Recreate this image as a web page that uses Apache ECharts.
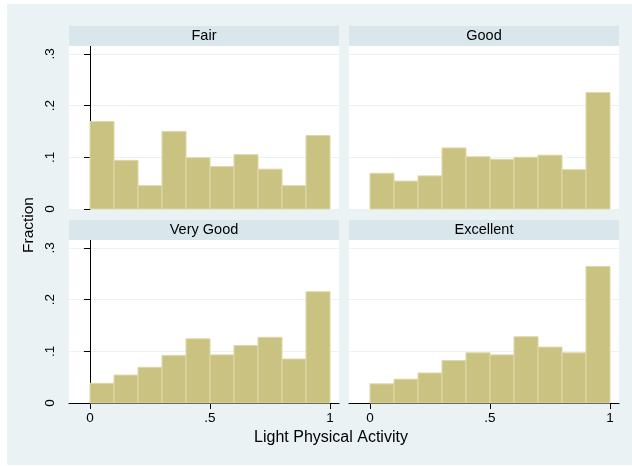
<!DOCTYPE html>
<html><head><meta charset="utf-8">
<script src="https://cdn.jsdelivr.net/npm/echarts@6/dist/echarts.min.js"></script>
<style>html,body{margin:0;padding:0;background:#fff}#c{width:632px;height:466px}</style>
</head><body><div id="c"></div>
<script>
// ---- data ----
const panelTitles = ['Fair', 'Good', 'Very Good', 'Excellent'];
const binStarts = [0, 0.1, 0.2, 0.3, 0.4, 0.5, 0.6, 0.7, 0.8, 0.9];
const binWidth = 0.1;
const fair      = [0.169, 0.094, 0.045, 0.150, 0.099, 0.082, 0.105, 0.077, 0.045, 0.142];
const good      = [0.069, 0.054, 0.064, 0.118, 0.101, 0.096, 0.100, 0.104, 0.076, 0.225];
const veryGood  = [0.038, 0.054, 0.069, 0.092, 0.124, 0.093, 0.111, 0.127, 0.085, 0.215];
const excellent = [0.037, 0.046, 0.058, 0.082, 0.097, 0.093, 0.128, 0.108, 0.097, 0.264];
const xTicks = [0, 0.5, 1];
const xTickLabels = ['0', '.5', '1'];
const yTicks = [0, 0.1, 0.2, 0.3];
const yTickLabels = ['0', '.1', '.2', '.3'];
const xTitle = 'Light Physical Activity';
const yTitle = 'Fraction';

const seriesValues = [fair, good, veryGood, excellent];

// ---- layout ----
const FONT = 'Liberation Sans, Arial, sans-serif';
const grids = [
  {left: 69, top: 46, width: 270, height: 163},
  {left: 349, top: 46, width: 270, height: 163},
  {left: 69, top: 240, width: 270, height: 163},
  {left: 349, top: 240, width: 270, height: 163}
];
const XMIN = -0.0875, XMAX = 1.0375, YMAX = 0.315;

const chart = echarts.init(document.getElementById('c'), null, {renderer: 'canvas'});

function renderItem(params, api) {
  const x0 = api.value(0), v = api.value(1);
  const p0 = api.coord([x0, 0]);
  const p1 = api.coord([x0 + binWidth, v]);
  return {
    type: 'rect',
    shape: {x: p0[0], y: p1[1], width: p1[0] - p0[0], height: p0[1] - p1[1]},
    style: {fill: '#CAC281', stroke: '#DDD8A9', lineWidth: 1}
  };
}

const xAxes = [], yAxes = [], series = [], graphics = [];
graphics.push({type: 'rect', z: -10, shape: {x: 7, y: 4, width: 625, height: 461}, style: {fill: '#EAF2F3'}});

grids.forEach((g, i) => {
  const bottom = i >= 2, left = i % 2 === 0;
  xAxes.push({
    type: 'value', gridIndex: i, min: XMIN, max: XMAX,
    axisLine: {show: bottom, onZero: false, lineStyle: {color: '#000', width: 1}},
    axisTick: {show: bottom, length: 6, customValues: xTicks, lineStyle: {color: '#000'}},
    axisLabel: {show: bottom, customValues: xTicks, margin: 8, color: '#000', fontFamily: FONT, fontSize: 13.5,
      formatter: v => xTickLabels[xTicks.findIndex(t => Math.abs(t - v) < 1e-9)] ?? ''},
    splitLine: {show: false}
  });
  yAxes.push({
    type: 'value', gridIndex: i, min: 0, max: YMAX,
    axisLine: {show: left, lineStyle: {color: '#000', width: 1}},
    axisTick: {show: left, length: 6, customValues: yTicks, lineStyle: {color: '#000'}},
    axisLabel: {show: left, customValues: yTicks, rotate: 90, margin: 12, color: '#000', fontFamily: FONT, fontSize: 13.5,
      formatter: v => yTickLabels[yTicks.findIndex(t => Math.abs(t - v) < 1e-9)] ?? ''},
    splitLine: {show: true, lineStyle: {color: '#EAF2F3', width: 1}}
  });
  series.push({
    type: 'custom', xAxisIndex: i, yAxisIndex: i, renderItem: renderItem,
    encode: {x: 0, y: 1}, silent: true,
    data: binStarts.map((s, k) => [s, seriesValues[i][k]])
  });
  graphics.push({type: 'rect', z: 5, shape: {x: g.left, y: g.top - 20, width: g.width, height: 20}, style: {fill: '#D9E6EB'}});
  graphics.push({type: 'text', z: 6, x: g.left + g.width / 2, y: g.top - 10,
    style: {text: panelTitles[i], font: '14.5px ' + FONT, fill: '#000', align: 'center', verticalAlign: 'middle'}});
});

graphics.push({type: 'text', z: 6, x: 331, y: 438,
  style: {text: xTitle, font: '16px ' + FONT, fill: '#000', align: 'center', verticalAlign: 'middle'}});
graphics.push({type: 'text', z: 6, x: 29, y: 225, rotation: Math.PI / 2,
  style: {text: yTitle, font: '15.5px ' + FONT, fill: '#000', align: 'center', verticalAlign: 'middle'}});

chart.setOption({
  animation: false,
  backgroundColor: '#fff',
  grid: grids.map(g => Object.assign({show: true, backgroundColor: '#fff', borderWidth: 0, containLabel: false}, g)),
  xAxis: xAxes,
  yAxis: yAxes,
  series: series,
  graphic: {elements: graphics}
});
</script>
</body></html>
